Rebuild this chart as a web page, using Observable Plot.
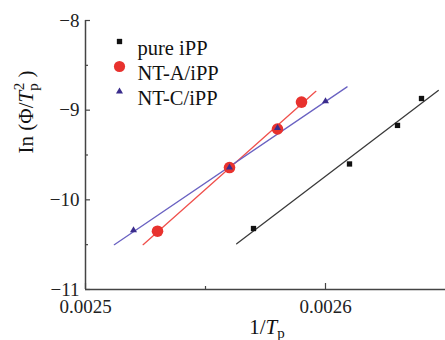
<!DOCTYPE html>
<html><head><meta charset="utf-8">
<script src="https://cdn.jsdelivr.net/npm/d3@7"></script>
<script src="https://cdn.jsdelivr.net/npm/@observablehq/plot@0.6"></script>
<style>body{margin:0;background:#fff} #chart{width:445px;height:340px}</style>
</head><body><div id="chart"></div>
<script>
const series = ["pure iPP", "NT-A/iPP", "NT-C/iPP"];
const pureX = [0.002570, 0.002610, 0.002630, 0.002640];
const pureY = [-10.32, -9.60, -9.17, -8.87];
const ntaX = [0.002530, 0.002560, 0.002580, 0.002590];
const ntaY = [-10.35, -9.64, -9.21, -8.91];
const ntcX = [0.002520, 0.002560, 0.002580, 0.002600];
const ntcY = [-10.34, -9.64, -9.20, -8.90];
// fitted line end points
const pureFitX = [0.002563, 0.002647];
const pureFitY = [-10.49, -8.78];
const ntaFitX = [0.002524, 0.002596];
const ntaFitY = [-10.50, -8.79];
const ntcFitX = [0.002512, 0.002609];
const ntcFitY = [-10.50, -8.74];
const xTicks = [0.0025, 0.0026];
const xTickLabels = ["0.0025", "0.0026"];
const xMinorTicks = [0.00255];
const yTicks = [-11, -10, -9, -8];
const yTickLabels = ["−11", "−10", "−9", "−8"];
const yMinorTicks = [-10.5, -9.5, -8.5];

const colors = {pure: "#111111", nta: "#e8322e", ntc: "#3a2c8c"};
const lineColors = {pure: "#3a3a3a", nta: "#f0504c", ntc: "#6a62c2"};

const pts = (xs, ys) => xs.map((x, i) => ({x, y: ys[i]}));
const font = "'Liberation Serif', 'Times New Roman', serif";
const W = 445, H = 340, mT = 20, mB = 51, mL = 85, mR = 0;
const innerH = H - mT - mB;

const legendMark = (i, symbol, fill, r) => [
  Plot.dot([series[i]], {frameAnchor: "top-left", dx: 34, dy: 21 + i * 25, symbol, fill, r, stroke: "none"}),
  Plot.text([series[i]], {frameAnchor: "top-left", dx: 52, dy: 20 + i * 25, text: d => d, textAnchor: "start", fontSize: 20.5, fill: "#111"})
];

const svg = Plot.plot({
  width: W, height: H,
  marginTop: mT, marginBottom: mB, marginLeft: mL, marginRight: mR,
  x: {domain: [0.0025, 0.00265], axis: null},
  y: {domain: [-11, -8], axis: null},
  marks: [
    Plot.line(pts(pureFitX, pureFitY), {x: "x", y: "y", stroke: lineColors.pure, strokeWidth: 1.3}),
    Plot.line(pts(ntaFitX, ntaFitY), {x: "x", y: "y", stroke: lineColors.nta, strokeWidth: 1.3}),
    Plot.line(pts(ntcFitX, ntcFitY), {x: "x", y: "y", stroke: lineColors.ntc, strokeWidth: 1.3}),
    Plot.dot(pts(pureX, pureY), {x: "x", y: "y", symbol: "square", r: 3, fill: colors.pure}),
    Plot.dot(pts(ntaX, ntaY), {x: "x", y: "y", symbol: "circle", r: 5.8, fill: colors.nta}),
    Plot.dot(pts(ntcX, ntcY), {x: "x", y: "y", symbol: "triangle", r: 2.6, fill: colors.ntc}),
    ...legendMark(0, "square", colors.pure, 3),
    ...legendMark(1, "circle", colors.nta, 5.6),
    ...legendMark(2, "triangle", colors.ntc, 2.6),
    // inward ticks
    Plot.tickX(xTicks, {x: d => d, insetTop: innerH - 6, stroke: "#444", strokeWidth: 1.2}),
    Plot.tickX(xMinorTicks, {x: d => d, insetTop: innerH - 3, stroke: "#444", strokeWidth: 1.2}),
    Plot.tickY(yTicks, {y: d => d, insetRight: (W - mL - mR) - 5, stroke: "#444", strokeWidth: 1.2}),
    Plot.tickY(yMinorTicks, {y: d => d, insetRight: (W - mL - mR) - 3, stroke: "#444", strokeWidth: 1.2}),
    Plot.axisX(xTicks, {label: null, tickSize: 0, tickPadding: 10, fontSize: 19, fill: "#222", tickFormat: (d, i) => xTickLabels[i]}),
    Plot.axisY(yTicks, {label: null, tickSize: 0, tickPadding: 6, fontSize: 19, fill: "#222", tickFormat: (d, i) => yTickLabels[i]}),
    Plot.ruleX([0.0025], {stroke: "#444", strokeWidth: 1.5}),
    Plot.ruleY([-11], {stroke: "#444", strokeWidth: 1.5})
  ]
});

const s = d3.select(svg);
s.style("font-family", font).style("background", "white");
// x axis label: 1/T_p
const xl = s.append("text").attr("x", 267).attr("y", 334).attr("text-anchor", "middle")
  .attr("font-size", 21).attr("fill", "#111");
xl.append("tspan").text("1/");
xl.append("tspan").attr("font-style", "italic").text("T");
xl.append("tspan").attr("font-size", 15).attr("dy", 4).text("p");
// y axis label: In (Φ/T_p^2)
const yl = s.append("text").attr("transform", "translate(33,112) rotate(-90)").attr("text-anchor", "middle")
  .attr("font-size", 21).attr("fill", "#111");
yl.append("tspan").text("In (Φ/");
yl.append("tspan").attr("font-style", "italic").text("T");
yl.append("tspan").attr("font-size", 15).attr("dy", 5).text("p");
yl.append("tspan").attr("font-size", 15).attr("dy", -14).attr("dx", -7).text("2");
yl.append("tspan").attr("dy", 9).text(" )");
s.selectAll("text").style("font-family", font);
document.getElementById("chart").appendChild(svg);
</script>
</body></html>
